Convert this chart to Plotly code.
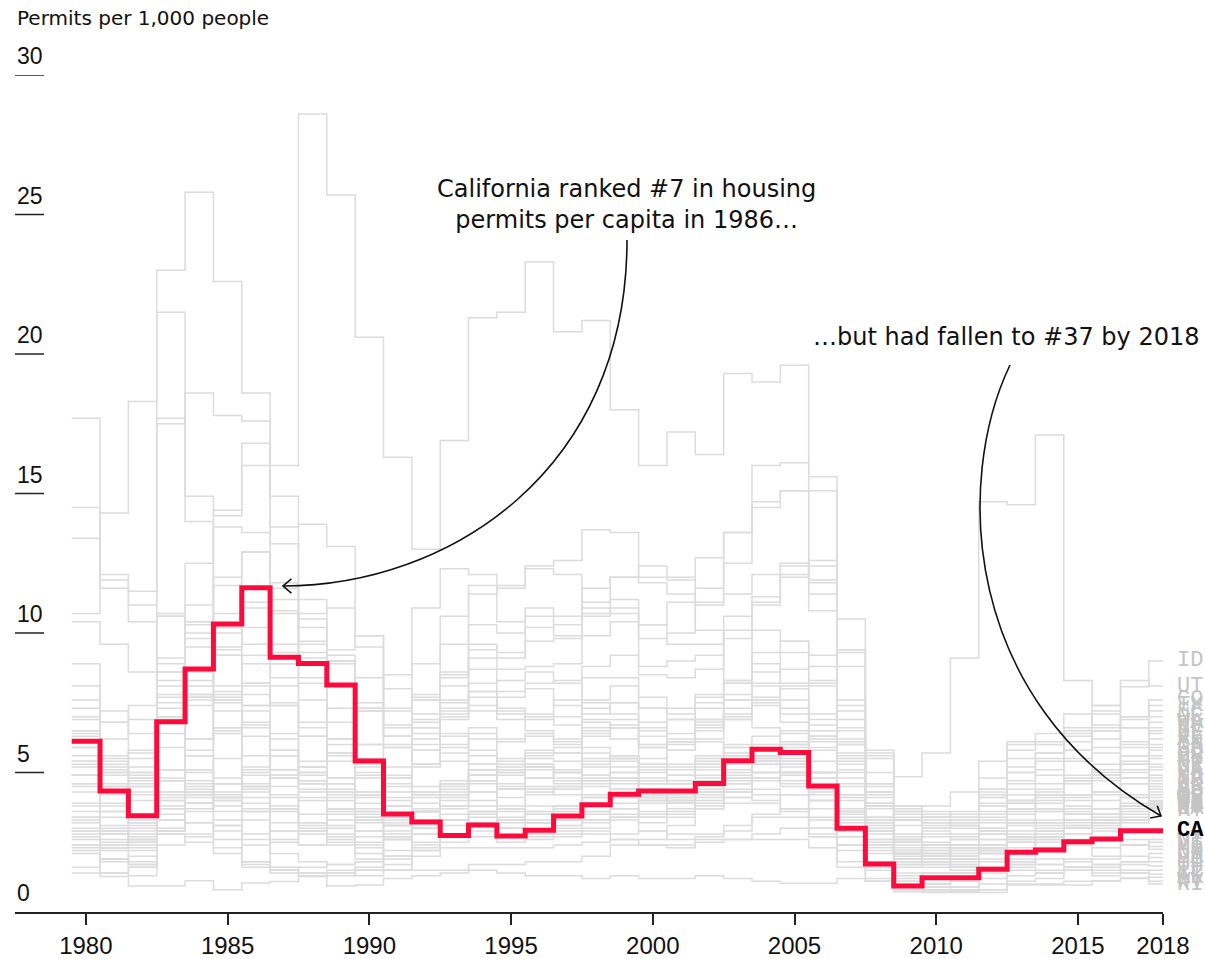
import math
import plotly.graph_objects as go

years = list(range(1980, 2019))

CA = [6.12, 4.34, 3.45, 6.82, 8.71, 10.32, 11.62, 9.13, 8.91, 8.14,
      5.41, 3.51, 3.23, 2.74, 3.12, 2.72, 2.93, 3.44, 3.84, 4.22,
      4.34, 4.34, 4.61, 5.42, 5.83, 5.72, 4.52, 3.00, 1.72, 0.93,
      1.23, 1.23, 1.53, 2.14, 2.22, 2.52, 2.62, 2.91, 2.91]
NV = [14.5, 12.1, 11.0, 17.7, 14.9, 14.2, 16.0, 16.0, 28.6, 25.7,
      20.6, 16.3, 13.0, 16.9, 21.3, 21.5, 23.3, 20.8, 21.2, 18.0,
      16.0, 17.2, 16.4, 19.3, 19.0, 19.6, 15.1, 8.8, 4.3, 2.5,
      1.9, 2.3, 3.2, 4.0, 4.2, 4.8, 4.7, 5.6, 6.6]
AZ = [13.4, 11.6, 10.4, 23.0, 25.8, 22.6, 18.6, 14.9, 11.2, 9.2,
      6.0, 6.0, 7.1, 9.6, 11.7, 11.6, 12.4, 12.6, 13.7, 13.6,
      12.0, 11.9, 12.7, 13.6, 14.7, 15.1, 11.8, 7.4, 3.8, 2.1,
      1.8, 1.9, 2.9, 3.9, 3.6, 4.1, 4.9, 5.3, 6.2]
FL = [17.7, 11.9, 11.5, 17.5, 18.6, 17.8, 17.6, 13.8, 13.9, 13.1,
      9.9, 7.2, 7.6, 8.5, 9.4, 8.7, 8.8, 8.9, 9.9, 10.4,
      9.8, 10.0, 11.1, 12.5, 14.5, 15.1, 11.4, 6.0, 3.3, 1.9,
      2.1, 2.3, 3.4, 4.4, 4.4, 5.4, 5.9, 6.0, 6.5]
AK = [10.7, 14.3, 18.3, 21.5, 14.0, 10.2, 4.5, 1.5, 1.3, 1.5,
      1.6, 2.2, 3.0, 3.3, 3.6, 3.0, 2.7, 2.7, 2.8, 2.6,
      2.6, 3.1, 4.0, 4.3, 4.4, 4.2, 3.4, 2.4, 1.8, 1.2,
      1.0, 1.2, 1.5, 1.8, 1.7, 1.6, 1.7, 1.4, 1.25]
ID = [4.9, 3.6, 3.2, 4.3, 4.5, 4.3, 3.6, 3.7, 4.1, 5.6,
      7.3, 8.5, 10.9, 12.3, 12.1, 10.4, 10.6, 9.9, 10.6, 11.2,
      10.3, 11.1, 11.6, 13.6, 16.0, 16.1, 15.6, 10.5, 5.5, 3.3,
      3.1, 3.0, 4.4, 5.5, 5.7, 6.3, 7.4, 8.07, 9.0]
UT = [6.5, 4.9, 4.8, 7.7, 7.7, 6.5, 5.6, 4.2, 3.2, 3.7,
      5.2, 6.6, 8.9, 10.6, 11.4, 11.7, 12.3, 12.1, 10.9, 10.7,
      8.8, 9.0, 9.2, 10.6, 11.3, 12.1, 12.6, 9.4, 4.6, 3.1,
      3.2, 3.3, 4.1, 6.1, 6.0, 6.4, 7.2, 8.3, 8.1]
CO = [8.9, 6.8, 7.4, 10.6, 10.3, 8.1, 6.3, 4.1, 3.2, 3.6,
      3.4, 4.0, 6.2, 8.4, 10.3, 10.0, 10.9, 10.6, 11.6, 12.0,
      12.4, 12.0, 10.1, 8.3, 10.1, 9.7, 8.2, 6.2, 3.8, 2.0,
      2.4, 2.6, 4.4, 5.2, 5.5, 5.8, 7.1, 7.0, 7.6]
TX = [10.4, 9.6, 8.6, 10.7, 9.8, 7.6, 4.3, 2.5, 2.4, 2.7,
      2.9, 2.7, 3.3, 4.3, 5.1, 5.1, 5.7, 5.9, 6.9, 6.9,
      6.6, 6.9, 7.5, 7.8, 8.6, 9.3, 9.2, 6.9, 5.6, 3.8,
      3.4, 3.6, 4.8, 5.8, 6.1, 6.5, 6.6, 6.9, 7.4]
SC = [5.9, 5.5, 5.8, 8.9, 10.4, 10.0, 9.6, 9.3, 8.9, 9.0,
      7.3, 5.9, 6.4, 6.9, 7.2, 7.7, 8.2, 8.3, 8.8, 9.2,
      8.5, 8.4, 8.7, 9.8, 11.1, 12.4, 12.4, 9.3, 5.7, 3.7,
      3.5, 3.4, 4.3, 5.0, 5.7, 6.6, 6.5, 7.0, 7.2]
NC = [6.5, 5.6, 5.7, 8.3, 9.5, 10.7, 11.1, 10.7, 9.7, 8.9,
      7.2, 6.3, 6.9, 8.1, 9.1, 9.1, 9.7, 9.8, 10.7, 10.9,
      10.3, 9.6, 9.6, 10.1, 11.0, 12.5, 11.9, 9.4, 5.8, 3.3,
      3.0, 3.1, 4.1, 5.0, 5.4, 5.8, 6.2, 6.6, 7.0]
WA = [7.3, 5.4, 5.2, 7.5, 7.6, 7.5, 8.2, 8.9, 10.7, 10.9,
      9.5, 7.3, 7.7, 7.1, 7.7, 7.2, 6.9, 7.6, 8.4, 8.4,
      7.7, 6.9, 6.9, 7.6, 8.2, 8.7, 8.8, 7.6, 5.0, 2.6,
      3.0, 3.3, 4.2, 4.7, 5.1, 6.1, 6.7, 6.6, 6.8]
GA = [7.0, 6.2, 6.9, 10.6, 12.5, 13.8, 13.6, 11.2, 9.6, 9.0,
      7.2, 6.3, 7.8, 8.6, 9.6, 9.3, 10.2, 10.3, 11.1, 12.0,
      11.8, 11.4, 11.0, 11.4, 12.1, 12.0, 10.8, 7.2, 3.8, 1.9,
      1.7, 1.6, 2.3, 3.2, 3.6, 4.2, 4.8, 5.3, 5.9]
DE = [5.6, 5.0, 5.0, 8.6, 10.0, 12.0, 12.9, 11.8, 10.5, 9.0,
      8.4, 6.7, 6.6, 7.0, 7.4, 6.9, 7.0, 6.7, 7.3, 7.5,
      7.3, 7.1, 7.3, 8.2, 9.3, 9.7, 8.3, 6.5, 4.3, 3.6,
      3.4, 3.5, 3.8, 4.6, 4.9, 5.5, 5.7, 6.1, 6.4]
TN = [5.4, 4.5, 4.7, 7.0, 7.8, 7.7, 8.1, 7.4, 6.3, 5.7,
      4.9, 4.8, 5.8, 7.2, 7.9, 7.9, 8.0, 7.4, 7.1, 7.5,
      6.8, 6.2, 6.8, 7.0, 7.7, 8.1, 8.1, 6.6, 3.9, 2.5,
      2.4, 2.4, 2.9, 3.7, 4.0, 4.6, 5.1, 5.6, 6.0]
SD = [3.4, 2.5, 2.6, 3.7, 3.2, 2.9, 2.6, 2.6, 2.9, 3.3,
      3.3, 3.4, 4.2, 4.6, 5.1, 5.0, 5.3, 4.7, 5.4, 5.6,
      5.2, 6.1, 6.5, 7.1, 7.5, 7.1, 6.5, 5.7, 4.5, 3.8,
      3.8, 4.3, 5.4, 6.0, 6.4, 7.1, 6.5, 5.9, 5.8]
OR = [4.6, 2.8, 2.6, 4.1, 4.2, 4.1, 4.4, 4.9, 5.2, 6.2,
      6.0, 5.9, 6.8, 7.5, 8.2, 8.3, 8.6, 8.2, 7.5, 7.1,
      5.9, 5.8, 6.2, 6.9, 7.6, 8.0, 7.1, 5.6, 3.3, 1.9,
      1.7, 2.0, 2.8, 3.5, 4.2, 4.7, 5.3, 5.4, 5.6]
MN = [5.3, 4.5, 4.0, 7.0, 7.7, 7.8, 7.8, 7.4, 6.6, 5.7,
      5.3, 4.8, 5.3, 5.7, 5.8, 5.5, 5.8, 5.7, 6.5, 6.6,
      6.5, 6.4, 7.7, 8.2, 8.1, 7.3, 5.4, 3.6, 2.6, 1.8,
      1.6, 1.6, 2.3, 3.1, 3.0, 3.5, 4.0, 4.6, 5.5]
NE = [2.9, 2.4, 2.9, 4.3, 4.6, 4.2, 3.7, 3.8, 3.5, 3.7,
      4.2, 4.3, 5.3, 5.9, 6.2, 5.4, 5.6, 5.7, 6.3, 6.7,
      6.3, 6.1, 6.7, 7.6, 7.4, 6.8, 5.8, 4.8, 4.2, 3.5,
      3.2, 3.2, 3.9, 4.2, 4.6, 4.9, 5.0, 5.1, 5.3]
MT = [4.3, 2.9, 2.3, 2.8, 2.8, 2.1, 1.6, 1.5, 1.6, 1.7,
      1.8, 2.6, 3.7, 4.6, 4.7, 3.7, 3.2, 3.0, 3.0, 3.4,
      3.5, 3.7, 4.4, 4.8, 5.6, 6.0, 6.1, 5.5, 3.7, 2.5,
      2.0, 2.0, 2.6, 3.7, 4.2, 4.7, 4.9, 4.8, 5.2]
VA = [6.9, 5.1, 5.5, 9.1, 10.4, 11.7, 12.9, 11.6, 10.2, 9.0,
      7.5, 6.3, 6.6, 7.3, 7.9, 7.3, 7.1, 7.0, 7.6, 8.1,
      7.3, 7.3, 7.8, 8.3, 8.9, 8.2, 6.9, 5.3, 3.8, 3.3,
      3.4, 3.2, 3.8, 4.0, 3.9, 4.2, 4.3, 4.8, 5.1]
NJ = [2.6, 2.3, 2.5, 4.7, 6.2, 7.6, 8.2, 7.5, 6.3, 4.8,
      3.4, 2.6, 3.0, 3.3, 3.2, 3.0, 3.2, 3.8, 4.1, 4.4,
      4.2, 4.0, 3.8, 4.1, 4.0, 4.2, 3.7, 2.9, 2.1, 1.4,
      1.4, 1.4, 2.1, 2.7, 3.3, 3.8, 3.7, 4.1, 4.9]
IA = [2.3, 1.4, 1.6, 2.8, 2.5, 2.3, 2.4, 2.9, 2.8, 3.0,
      3.2, 3.1, 3.9, 4.2, 4.6, 4.4, 4.4, 4.4, 4.8, 5.2,
      4.6, 4.7, 5.3, 5.9, 5.8, 5.7, 5.0, 4.2, 3.2, 2.8,
      2.7, 2.7, 3.3, 3.7, 3.7, 4.0, 4.3, 4.6, 4.8]
ND = [4.9, 3.4, 3.1, 4.8, 4.3, 3.6, 2.8, 2.1, 1.8, 1.7,
      1.8, 2.0, 2.8, 3.1, 3.4, 3.3, 3.6, 3.8, 4.1, 4.1,
      4.0, 3.9, 4.8, 5.1, 5.3, 5.3, 4.8, 4.5, 4.3, 4.85,
      5.7, 9.1, 14.7, 14.6, 17.1, 8.3, 7.4, 5.0, 4.7]
OK = [7.6, 6.8, 6.4, 7.8, 5.0, 3.1, 1.8, 1.6, 1.4, 1.4,
      1.5, 1.5, 2.2, 2.8, 3.1, 3.2, 3.5, 3.3, 3.5, 3.5,
      3.2, 3.4, 3.9, 4.6, 5.0, 5.0, 4.5, 3.6, 3.1, 2.6,
      2.8, 2.6, 2.8, 3.9, 4.1, 4.2, 4.2, 4.1, 4.6]
AR = [3.6, 2.9, 3.0, 4.7, 5.1, 4.6, 3.9, 3.2, 2.9, 2.8,
      2.9, 3.1, 3.6, 4.2, 4.7, 4.9, 4.8, 4.6, 4.7, 5.0,
      4.2, 4.1, 4.5, 5.0, 5.5, 5.9, 5.0, 4.2, 2.9, 2.7,
      2.9, 2.8, 3.0, 3.2, 3.2, 3.3, 3.5, 4.2, 4.5]
AL = [3.4, 3.1, 3.3, 4.7, 5.6, 6.4, 6.7, 5.8, 4.7, 4.3,
      4.1, 3.8, 4.2, 4.4, 4.9, 5.2, 5.3, 4.8, 4.7, 4.7,
      4.0, 4.0, 4.1, 4.4, 5.5, 6.4, 6.3, 4.6, 3.4, 2.4,
      2.2, 1.9, 2.2, 2.8, 2.9, 3.0, 3.3, 3.8, 4.4]
NH = [5.4, 4.2, 4.8, 8.6, 11.0, 14.4, 16.8, 13.2, 9.3, 6.2,
      3.6, 2.6, 2.8, 3.3, 3.6, 3.8, 4.2, 4.4, 4.9, 5.0,
      5.1, 4.6, 5.1, 5.3, 5.4, 5.0, 4.2, 3.3, 2.4, 1.7,
      1.8, 1.7, 2.2, 2.5, 2.5, 3.2, 3.3, 3.8, 4.3]
MD = [4.9, 3.8, 4.3, 7.3, 8.3, 9.4, 10.2, 9.6, 8.4, 7.3,
      5.5, 4.9, 5.2, 5.4, 5.6, 5.1, 5.1, 5.0, 5.3, 5.5,
      5.3, 4.9, 5.4, 5.6, 5.4, 5.0, 4.3, 3.6, 2.6, 2.1,
      2.3, 2.4, 3.0, 3.3, 3.1, 3.3, 3.2, 3.7, 4.2]
KS = [4.5, 3.6, 3.4, 5.1, 5.6, 4.8, 4.1, 3.6, 3.0, 2.6,
      2.7, 2.9, 3.6, 4.1, 4.7, 4.6, 4.8, 5.0, 5.9, 5.6,
      5.0, 5.3, 5.5, 5.7, 5.6, 5.5, 5.0, 4.1, 2.9, 2.3,
      2.4, 2.3, 2.6, 3.2, 3.2, 3.6, 3.7, 3.9, 4.1]
IN = [3.0, 1.9, 1.8, 3.3, 3.9, 4.1, 4.5, 4.8, 4.6, 4.6,
      4.8, 4.5, 5.3, 6.0, 6.4, 6.2, 6.4, 6.1, 6.6, 6.6,
      6.0, 5.8, 6.1, 5.9, 5.9, 5.2, 4.4, 3.4, 2.4, 1.8,
      1.9, 1.9, 2.4, 2.7, 2.8, 3.1, 3.3, 3.8, 4.0]
WY = [8.1, 7.2, 4.9, 3.3, 3.2, 2.6, 1.7, 1.5, 1.4, 1.4,
      1.3, 1.5, 2.2, 3.3, 3.5, 3.0, 2.9, 3.1, 3.3, 3.7,
      3.4, 3.9, 4.3, 4.8, 5.4, 6.0, 6.3, 6.1, 4.6, 3.6,
      3.6, 3.4, 3.6, 4.0, 4.3, 3.7, 3.5, 3.4, 3.95]
MA = [2.4, 2.3, 2.6, 4.0, 5.1, 6.6, 7.2, 6.4, 5.0, 3.1,
      2.1, 2.0, 2.3, 2.5, 2.7, 2.5, 2.6, 2.8, 2.9, 2.8,
      2.9, 2.6, 2.7, 2.9, 3.5, 3.7, 3.0, 2.4, 1.8, 1.3,
      1.4, 1.4, 1.9, 2.5, 2.7, 3.1, 3.3, 3.6, 3.9]
HI = [6.4, 5.3, 4.6, 5.9, 7.4, 7.2, 7.4, 8.1, 8.2, 9.4,
      9.9, 8.0, 7.6, 6.3, 5.3, 4.5, 3.2, 3.3, 3.2, 3.4,
      4.0, 3.9, 4.3, 5.4, 6.3, 6.5, 5.9, 5.1, 3.9, 2.6,
      2.5, 2.4, 2.3, 2.2, 2.9, 3.5, 3.2, 3.5, 3.85]
WI = [3.2, 2.3, 2.4, 3.7, 4.1, 4.6, 5.2, 5.6, 5.4, 5.4,
      5.0, 5.2, 6.0, 6.4, 6.6, 6.1, 6.3, 6.0, 6.8, 6.6,
      5.9, 6.1, 6.6, 6.9, 6.6, 6.1, 5.0, 4.0, 2.9, 2.2,
      2.0, 2.0, 2.4, 2.7, 2.7, 2.8, 3.1, 3.2, 3.8]
MO = [3.3, 2.6, 3.2, 5.1, 6.2, 6.6, 6.8, 5.8, 4.9, 4.4,
      3.9, 3.8, 4.3, 4.5, 4.9, 4.4, 5.2, 5.1, 5.5, 5.5,
      4.7, 4.9, 5.3, 5.6, 5.6, 5.4, 4.5, 3.5, 2.3, 1.7,
      1.8, 1.7, 2.1, 2.9, 2.9, 3.0, 3.2, 3.3, 3.75]
LA = [5.9, 5.0, 4.2, 5.1, 4.7, 3.3, 1.8, 1.4, 1.3, 1.3,
      1.5, 1.7, 2.4, 2.8, 3.2, 3.3, 3.6, 3.6, 3.6, 3.9,
      3.6, 3.6, 3.7, 4.1, 5.0, 5.0, 6.7, 6.0, 4.1, 3.4,
      3.3, 3.1, 3.5, 3.6, 3.7, 3.5, 3.4, 3.3, 3.7]
KY = [3.9, 3.0, 2.8, 3.8, 3.9, 4.0, 4.6, 4.8, 4.4, 4.3,
      4.2, 4.1, 4.5, 4.6, 5.1, 5.0, 5.2, 5.0, 5.2, 5.4,
      4.6, 4.6, 4.9, 5.3, 5.3, 4.7, 4.0, 3.2, 2.5, 2.1,
      2.1, 2.2, 2.4, 2.6, 2.7, 3.0, 3.0, 3.3, 3.65]
NY = [1.6, 1.4, 1.6, 2.4, 2.7, 3.1, 3.6, 3.7, 3.1, 2.5,
      1.9, 1.5, 1.5, 1.5, 1.7, 1.7, 1.8, 1.8, 2.0, 2.4,
      2.4, 2.3, 2.6, 2.6, 2.8, 3.0, 2.8, 2.7, 1.8, 1.1,
      1.0, 1.1, 1.6, 1.7, 2.6, 2.6, 2.0, 2.4, 2.6]
VT = [5.2, 4.6, 4.5, 6.9, 7.8, 9.2, 9.2, 8.9, 7.6, 6.0,
      4.3, 3.3, 3.6, 3.7, 3.8, 3.6, 3.5, 3.6, 3.8, 4.1,
      3.9, 3.9, 4.3, 4.7, 4.8, 4.6, 4.0, 3.7, 3.0, 2.1,
      2.1, 1.8, 2.2, 1.9, 2.6, 2.5, 2.6, 2.4, 2.5]
ME = [4.6, 3.9, 4.5, 6.4, 8.1, 9.5, 10.9, 10.8, 9.1, 6.8,
      4.2, 3.2, 3.6, 3.8, 4.0, 3.7, 3.8, 3.7, 4.2, 4.8,
      4.8, 5.1, 5.6, 6.0, 6.0, 5.4, 4.8, 3.6, 2.8, 2.1,
      2.0, 2.2, 2.3, 2.6, 2.7, 2.8, 2.9, 2.6, 2.35]
MS = [3.8, 2.8, 2.5, 4.0, 4.4, 4.1, 3.3, 2.9, 2.4, 2.4,
      2.4, 2.7, 3.3, 3.8, 4.3, 4.4, 4.5, 4.5, 4.9, 4.8,
      4.1, 4.0, 4.2, 4.6, 4.7, 5.3, 6.3, 5.4, 3.4, 2.2,
      2.2, 2.1, 2.1, 2.3, 2.3, 2.4, 2.3, 2.4, 2.25]
NM = [6.3, 5.2, 5.0, 8.1, 8.6, 9.2, 7.4, 5.6, 4.0, 3.5,
      3.6, 4.6, 5.8, 7.6, 8.7, 7.1, 6.5, 6.2, 6.4, 6.2,
      5.5, 6.0, 6.9, 7.3, 7.6, 7.6, 6.2, 5.0, 3.2, 2.1,
      1.9, 1.6, 1.8, 1.8, 1.9, 1.8, 1.9, 2.0, 2.1]
PA = [2.4, 1.8, 2.2, 3.5, 4.3, 4.6, 5.1, 5.1, 4.7, 4.1,
      3.3, 2.8, 3.2, 3.5, 3.6, 3.4, 3.3, 3.4, 3.6, 3.7,
      3.4, 3.5, 3.7, 3.9, 3.9, 3.6, 3.3, 2.9, 2.2, 1.6,
      1.8, 1.5, 1.6, 1.7, 1.7, 1.9, 1.7, 1.8, 1.95]
MI = [2.9, 2.2, 1.7, 2.9, 3.9, 4.6, 5.0, 4.9, 5.0, 4.8,
      4.3, 3.8, 4.3, 4.7, 5.3, 5.3, 5.5, 5.4, 5.7, 5.5,
      5.3, 5.2, 5.2, 5.3, 5.0, 4.5, 2.7, 1.8, 1.2, 0.8,
      0.75, 0.8, 1.0, 1.3, 1.4, 1.5, 1.6, 1.8, 1.8]
OH = [2.7, 1.9, 1.7, 2.9, 3.6, 3.8, 4.5, 4.5, 4.3, 4.2,
      3.7, 3.5, 4.1, 4.6, 4.9, 4.4, 4.4, 4.2, 4.6, 4.6,
      4.4, 4.1, 4.3, 4.3, 4.2, 3.7, 3.0, 2.2, 1.6, 1.0,
      0.9, 0.9, 1.2, 1.5, 1.5, 1.5, 1.5, 1.7, 1.65]
IL = [2.1, 1.4, 1.3, 2.9, 3.7, 4.0, 4.9, 5.1, 4.6, 4.0,
      3.5, 3.1, 3.6, 4.0, 4.3, 4.1, 4.3, 4.5, 4.5, 4.4,
      4.1, 4.2, 4.7, 4.9, 4.8, 4.9, 4.0, 2.7, 1.7, 0.9,
      0.8, 0.75, 0.8, 1.1, 1.2, 1.6, 1.3, 1.4, 1.5]
CT = [2.8, 2.4, 2.7, 4.2, 5.8, 7.9, 8.9, 8.4, 6.8, 4.6,
      2.5, 2.0, 2.5, 2.8, 2.9, 2.7, 2.8, 2.9, 3.3, 3.3,
      2.9, 2.8, 2.8, 3.1, 3.4, 3.4, 2.7, 2.4, 1.5, 1.1,
      1.0, 0.9, 1.4, 1.6, 1.4, 1.6, 1.4, 1.5, 1.35]
WV = [1.4, 1.27, 0.93, 0.93, 1.12, 0.8, 1.04, 1.09, 1.27, 0.93,
      0.97, 1.2, 1.3, 1.4, 1.5, 1.4, 1.3, 1.3, 1.2, 1.3,
      1.2, 1.2, 1.3, 1.2, 1.1, 1.03, 1.03, 1.2, 1.1, 0.9,
      0.9, 0.75, 0.8, 1.0, 1.0, 1.1, 1.1, 1.2, 1.1]
RI = [2.2, 1.9, 2.0, 3.0, 4.2, 5.5, 6.6, 6.2, 5.2, 3.7,
      2.3, 1.9, 2.0, 2.3, 2.3, 2.3, 2.3, 2.4, 2.5, 2.6,
      2.4, 2.4, 2.5, 2.6, 2.6, 2.6, 2.3, 1.6, 1.1, 0.73,
      0.7, 0.7, 0.7, 0.97, 0.97, 0.97, 1.12, 1.22, 1.0]

states = {
    "NV": NV, "AZ": AZ, "FL": FL, "AK": AK, "ID": ID, "UT": UT, "CO": CO,
    "TX": TX, "SC": SC, "NC": NC, "WA": WA, "GA": GA, "DE": DE, "TN": TN,
    "SD": SD, "OR": OR, "MN": MN, "NE": NE, "MT": MT, "VA": VA, "NJ": NJ,
    "IA": IA, "ND": ND, "OK": OK, "AR": AR, "AL": AL, "NH": NH, "MD": MD,
    "KS": KS, "IN": IN, "WY": WY, "MA": MA, "HI": HI, "WI": WI, "MO": MO,
    "LA": LA, "KY": KY, "NY": NY, "VT": VT, "ME": ME, "MS": MS, "NM": NM,
    "PA": PA, "MI": MI, "OH": OH, "IL": IL, "CT": CT, "WV": WV, "RI": RI,
}

x_ticks = [1980, 1985, 1990, 1995, 2000, 2005, 2010, 2015, 2018]
y_ticks = [0, 5, 10, 15, 20, 25, 30]

GRAY = "#dcdcdc"
RED = "#ff0a3c"
INK = "#111111"
TXT_FONT = "DejaVu Sans"
NUM_FONT = "Liberation Sans"

# geometry of the plot area in pixels (for annotation drawing)
W, H = 1205, 959
ML, MR, MT_, MB = 15, 42, 75, 47
PW, PH = W - ML - MR, H - MT_ - MB


def px(xp):
    return (xp - ML) / PW


def py(yp):
    return (H - MB - yp) / PH


def edges(vals):
    xs = [y - 0.5 for y in years] + [years[-1] + 0.5]
    ys = list(vals) + [vals[-1]]
    return xs, ys


fig = go.Figure()
for code, vals in states.items():
    xs, ys = edges(vals)
    fig.add_trace(go.Scatter(x=xs, y=ys, mode="lines", line_shape="hv",
                             line=dict(color=GRAY, width=1.5),
                             hoverinfo="skip", showlegend=False, name=code))
xs, ys = edges(CA)
fig.add_trace(go.Scatter(x=xs, y=ys, mode="lines", line_shape="hv",
                         line=dict(color=RED, width=5),
                         showlegend=False, name="CA"))

shapes = []
annotations = []

# y axis labels with short underline
for v in y_ticks:
    if v > 0:
        shapes.append(dict(type="line", xref="paper", yref="y",
                           x0=0, x1=px(44), y0=v, y1=v,
                           line=dict(color="#222", width=1.5)))
    annotations.append(dict(xref="paper", yref="y", x=0, y=v, text=str(v),
                            xanchor="left", yanchor="bottom", yshift=4,
                            showarrow=False,
                            font=dict(family=NUM_FONT, size=23, color=INK)))

annotations.append(dict(xref="paper", yref="paper", x=0, y=py(18),
                        text="Permits per 1,000 people", xanchor="left",
                        yanchor="middle", showarrow=False,
                        font=dict(family=TXT_FONT, size=20, color=INK)))

annotations.append(dict(xref="paper", yref="paper", x=px(627), y=py(204),
                        text="California ranked #7 in housing<br>permits per capita in 1986…",
                        xanchor="center", yanchor="middle", align="center",
                        showarrow=False,
                        font=dict(family=TXT_FONT, size=24, color=INK)))
annotations.append(dict(xref="paper", yref="paper", x=px(1006), y=py(337),
                        text="…but had fallen to #37 by 2018",
                        xanchor="center", yanchor="middle", showarrow=False,
                        font=dict(family=TXT_FONT, size=24, color=INK)))


def curve_arrow(p0, p1, p2, p3, head=11):
    path = "M {},{} C {},{} {},{} {},{}".format(
        px(p0[0]), py(p0[1]), px(p1[0]), py(p1[1]),
        px(p2[0]), py(p2[1]), px(p3[0]), py(p3[1]))
    shapes.append(dict(type="path", xref="paper", yref="paper", path=path,
                       line=dict(color=INK, width=1.6)))
    dx, dy = p3[0] - p2[0], p3[1] - p2[1]
    n = math.hypot(dx, dy)
    bx, by = -dx / n, -dy / n
    pts = []
    for ang in (0.7, -0.7):
        ca, sa = math.cos(ang), math.sin(ang)
        rx, ry = bx * ca - by * sa, bx * sa + by * ca
        pts.append((p3[0] + rx * head, p3[1] + ry * head))
    hp = "M {},{} L {},{} L {},{}".format(
        px(pts[0][0]), py(pts[0][1]), px(p3[0]), py(p3[1]),
        px(pts[1][0]), py(pts[1][1]))
    shapes.append(dict(type="path", xref="paper", yref="paper", path=hp,
                       line=dict(color=INK, width=1.6)))


curve_arrow((627, 240), (627, 470), (450, 586), (283, 586))
curve_arrow((1010, 365), (955, 480), (960, 700), (1161, 816))

# state labels at the right
LBL_X = px(1176)
for code, vals in states.items():
    annotations.append(dict(xref="paper", yref="y", x=LBL_X, y=vals[-1],
                            text=code, xanchor="left", yanchor="middle",
                            showarrow=False, borderpad=0,
                            font=dict(family="Liberation Mono", size=22,
                                      color="#c4c4c4")))
annotations.append(dict(xref="paper", yref="y", x=LBL_X, y=CA[-1],
                        text="<b>CA</b>", xanchor="left", yanchor="middle",
                        showarrow=False, borderpad=0,
                        font=dict(family="Liberation Mono", size=22,
                                  color="#000000")))

fig.update_layout(
    width=W, height=H,
    margin=dict(l=ML, r=MR, t=MT_, b=MB, autoexpand=False),
    paper_bgcolor="white", plot_bgcolor="white",
    shapes=shapes, annotations=annotations,
    xaxis=dict(range=[1977.5, 2018], tickvals=x_ticks,
               ticktext=[str(t) for t in x_ticks],
               ticks="outside", ticklen=11, tickwidth=1.5, tickcolor="#222",
               showline=True, linecolor="#222", linewidth=1.5,
               showgrid=False, zeroline=False, automargin=False,
               tickfont=dict(family=NUM_FONT, size=24, color=INK)),
    yaxis=dict(range=[0, 30], showticklabels=False, showgrid=False,
               zeroline=False, showline=False, ticks="", automargin=False),
)

fig.write_html("out.html",
               config={"displayModeBar": False},
               post_script="document.body.style.margin='0px';"
                           "document.body.style.overflow='hidden';")
